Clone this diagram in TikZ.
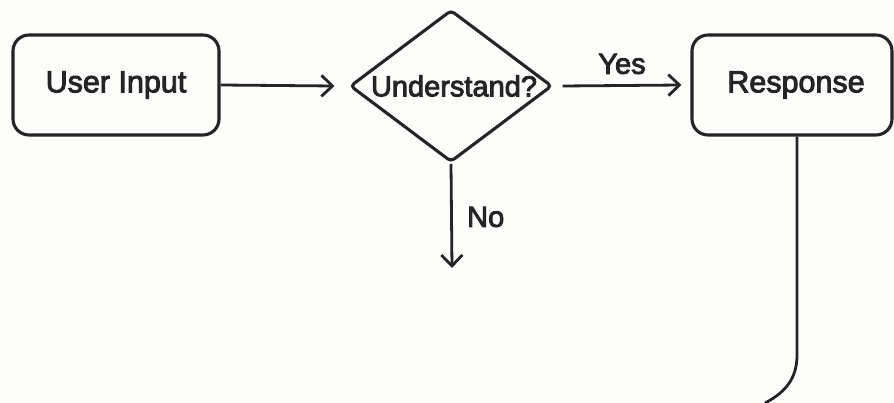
\documentclass[tikz,border=0pt]{standalone}
\usepackage{fontspec}
\setmainfont{Liberation Sans}[BoldFont={Liberation Sans}, BoldFeatures={FakeBold=3}]
\usetikzlibrary{shapes.geometric,arrows.meta,positioning}
\definecolor{ink}{HTML}{242424}
\definecolor{bg}{HTML}{FCFCFA}
\begin{document}
\begin{tikzpicture}[x=1pt,y=-1pt,
  box/.style={draw=ink, line width=3.1pt, rounded corners=16pt, text=ink,
    minimum width=206pt, minimum height=100pt, inner sep=0pt, font=\fontsize{30.5}{36}\selectfont\bfseries},
  decision/.style={draw=ink, line width=3.1pt, diamond, rounded corners=4pt,
    minimum width=202pt, minimum height=152pt, inner sep=0pt},
  flow/.style={draw=ink, line width=2.8pt, -{Straight Barb[length=11pt,width=21pt,line width=2.8pt]}},
  lbl/.style={text=ink, font=\fontsize{29}{34}\selectfont\bfseries, inner sep=0pt}]
\fill[bg] (0,0) rectangle (894,403);
\useasboundingbox (0,0) rectangle (894,403);
\node[box] (ui) at (116,85) {User Input};
\node[decision] (dec) at (451,86) {};
\node[lbl] (dectext) at (454,86) {Understand?};
\node[box, minimum width=200pt] (resp) at (792,85) {\hspace*{8pt}Response};
\draw[flow] (ui.east) -- ([xshift=-14pt]dec.west);
\draw[flow] ([xshift=9pt]dec.east) -- node[lbl, above=10pt] (yes) {Yes} ([xshift=-9pt]resp.west);
\coordinate (nend) at (452,268);
\draw[flow] (dec.south |- 0,164) -- (nend);
\node[lbl, anchor=west] (no) at (467,217) {No};
\coordinate (v1) at (797,355);
\coordinate (v2) at (765,403);
\draw[ink, line width=2.8pt] (resp.south -| v1) -- (v1) .. controls (797,378) and (786,392) .. (v2);
\end{tikzpicture}
\end{document}
